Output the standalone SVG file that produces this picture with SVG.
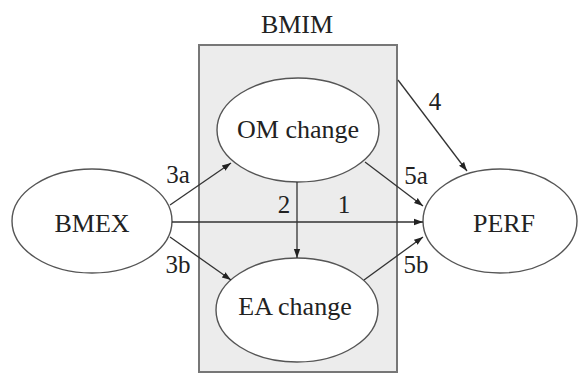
<svg xmlns="http://www.w3.org/2000/svg" width="578" height="373" viewBox="0 0 578 373">
<style>
text{font-family:"Liberation Serif","Times New Roman",serif;fill:#222;}
.n{font-size:26px;text-anchor:middle;}
.l{font-size:25px;text-anchor:middle;}
.e{fill:#fff;stroke:#555;stroke-width:1.4;}
.c{stroke:#333;stroke-width:1.3;fill:none;marker-end:url(#ah);}
</style>
<defs>
<marker id="ah" viewBox="0 0 10 10" refX="10" refY="5" markerWidth="9" markerHeight="9" markerUnits="userSpaceOnUse" orient="auto">
<path d="M0,1.5 L10,5 L0,8.5 z" fill="#222"/>
</marker>
</defs>
<rect width="578" height="373" fill="#fff"/>
<g id="BMIM">
<rect x="199" y="45" width="198" height="327" fill="#ececec" stroke="#777" stroke-width="2"/>
<text class="n" x="297" y="33">BMIM</text>
</g>
<g id="BMEX">
<ellipse class="e" cx="92" cy="221" rx="80" ry="52"/>
<text class="n" x="92" y="232">BMEX</text>
</g>
<g id="OM">
<ellipse class="e" cx="298" cy="130" rx="81" ry="52"/>
<text class="n" x="298" y="138">OM change</text>
</g>
<g id="EA">
<ellipse class="e" cx="297" cy="310" rx="81" ry="52"/>
<text class="n" x="295" y="315">EA change</text>
</g>
<g id="PERF">
<ellipse class="e" cx="500" cy="221" rx="77" ry="52"/>
<text class="n" x="504" y="232">PERF</text>
</g>
<g id="connectors">
<line class="c" x1="172" y1="222" x2="423" y2="222"/>
<line class="c" x1="170" y1="205" x2="231" y2="163"/>
<line class="c" x1="170" y1="237" x2="231" y2="280"/>
<line class="c" x1="297" y1="182" x2="297" y2="258"/>
<line class="c" x1="398" y1="80" x2="467" y2="171"/>
<line class="c" x1="365" y1="162" x2="423" y2="206"/>
<line class="c" x1="364" y1="280" x2="423" y2="237"/>
<text class="l" x="178" y="183">3a</text>
<text class="l" x="178" y="273">3b</text>
<text class="l" x="284" y="213">2</text>
<text class="l" x="344" y="213">1</text>
<text class="l" x="435" y="110">4</text>
<text class="l" x="416" y="184">5a</text>
<text class="l" x="416" y="273">5b</text>
</g>
</svg>
